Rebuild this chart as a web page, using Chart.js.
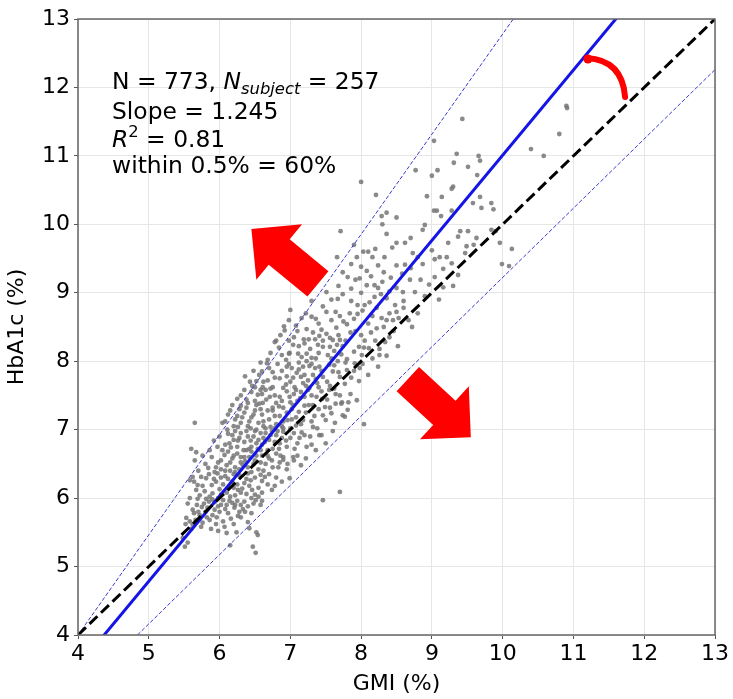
<!DOCTYPE html>
<html>
<head>
<meta charset="utf-8">
<script src="https://cdn.jsdelivr.net/npm/chart.js@4.4.1/dist/chart.umd.min.js"></script>
<style>
  body { margin: 0; background: #fff; }
  canvas { display: block; }
</style>
</head>
<body>
<canvas id="myChart" width="733" height="699"></canvas>
<script>
// GMI vs HbA1c, grouped by HbA1c band: [gmi, hba1c]
var band5 = [
  [5.51,5.29],[6.15,5.31],[6.24,5.5],[6.52,5.5],[6.54,5.46],[6.47,5.29],[6.51,5.2],[5.55,5.35],[6.1,5.49],[5.48,5.42],
  [5.53,5.71],[5.62,5.61],[5.76,5.64],[5.72,5.75],[5.82,5.72],[5.9,5.75],[6.07,5.58],[6.26,5.74],[6.3,5.72],[5.66,5.68],
  [5.95,5.62],[6.0,5.8],[5.6,5.55],[6.4,5.65],[6.05,5.66],[5.69,5.99],[5.81,5.99],[5.93,5.94],[5.75,5.87],[5.83,5.86],
  [5.93,5.83],[5.62,5.83],[6.21,5.86],[6.28,5.8],[6.1,5.9],[6.35,5.95],[5.55,5.92],[5.85,5.95],[6.05,5.97],[6.4,5.88],
  [7.46,5.97],[6.51,5.97],[6.18,5.93],[5.98,5.88],[5.7,5.8],[6.33,5.84],[6.45,5.78],[5.88,5.55],[6.2,5.62],[5.78,5.92],
  [6.12,5.78],[6.58,5.9],[6.25,5.96],[5.64,5.78],[5.74,5.58],[5.86,5.68],[5.96,5.72],[6.08,5.84],[6.16,5.7],[6.22,5.9],
  [5.68,5.9],[5.9,5.98],[6.02,5.9],[6.3,5.9],[5.58,5.66],[6.36,5.8],[5.8,5.8],[6.14,5.96],[6.48,5.92],[5.52,5.62],
  [6.6,5.96],[5.98,5.52],[6.42,5.56]
];
var band6 = [
  [5.58,6.0],[6.45,6.0],[5.67,6.12],[5.79,6.1],[5.9,6.07],[6.02,6.05],[6.15,6.02],[6.3,6.08],[6.5,6.05],[7.7,6.09],
  [6.46,6.12],[6.74,6.12],[6.6,6.08],[5.58,6.26],[5.62,6.31],[5.74,6.31],[5.81,6.29],[5.89,6.19],[5.69,6.19],[5.93,6.38],
  [5.97,6.36],[6.05,6.2],[6.12,6.28],[6.2,6.15],[6.28,6.33],[6.35,6.22],[6.42,6.18],[6.5,6.3],[6.6,6.25],[6.7,6.35],
  [6.45,6.38],[6.15,6.4],[6.0,6.13],[5.85,6.35],[6.25,6.2],[6.55,6.15],[6.8,6.3],[6.64,6.31],[6.99,6.29],[6.38,6.28],
  [6.08,6.32],[6.22,6.38],[5.95,6.24],[6.32,6.14],[5.65,6.55],[5.8,6.5],[5.89,6.6],[5.95,6.45],[6.02,6.55],[6.07,6.63],
  [6.1,6.48],[6.18,6.58],[6.22,6.45],[6.25,6.65],[6.3,6.52],[6.35,6.6],[6.4,6.45],[6.45,6.68],[6.5,6.55],[6.55,6.42],
  [6.6,6.62],[6.65,6.5],[6.7,6.58],[6.75,6.45],[6.8,6.65],[6.85,6.52],[6.9,6.6],[6.95,6.42],[7.05,6.55],[6.12,6.68],
  [6.38,6.7],[6.28,6.42],[6.58,6.7],[6.02,6.42],[7.15,6.48],[6.83,6.45],[6.9,6.56],[7.04,6.6],[6.48,6.5],[6.15,6.52],
  [6.42,6.6],[6.68,6.62],[6.33,6.48],[5.6,6.72],[5.67,6.67],[5.97,6.75],[6.14,6.8],[6.0,6.9],[6.2,6.85],[6.25,6.75],
  [6.3,6.95],[6.35,6.82],[6.4,6.9],[6.45,6.75],[6.5,6.98],[6.55,6.85],[6.6,6.78],[6.65,6.95],[6.7,6.85],[6.75,6.72],
  [6.8,6.92],[6.85,6.8],[6.9,6.97],[6.95,6.75],[7.0,6.88],[7.1,6.8],[7.2,6.92],[7.3,6.78],[7.44,6.92],[6.22,6.98],
  [6.42,6.72],[6.62,6.88],[6.82,6.98],[7.05,6.95],[6.08,6.78],[7.13,6.88],[7.23,6.75],[7.41,6.92],[6.28,6.88],[6.52,6.8],
  [6.72,6.92],[6.88,6.88],[6.18,6.92],[6.38,6.98],[6.58,6.95],
  [5.72,6.04],[5.86,6.02],[5.98,6.0],[6.1,6.08],[6.22,6.04],[6.38,6.06],[6.55,6.02],[5.64,6.24],[5.76,6.18],[5.92,6.28],
  [6.02,6.3],[6.18,6.24],[6.26,6.12],[6.44,6.26],[6.58,6.34],[6.68,6.2],[6.78,6.18],[6.88,6.24],[5.7,6.4],[5.84,6.44],
  [5.98,6.52],[6.08,6.4],[6.2,6.35],[6.3,6.6],[6.4,6.36],[6.52,6.62],[6.62,6.4],[6.74,6.55],[6.86,6.62],[6.96,6.5],
  [7.1,6.62],[7.22,6.58],[5.76,6.62],[5.86,6.7],[6.04,6.7],[6.16,6.74],[6.26,6.84],[6.34,6.7],[6.44,6.84],[6.54,6.72],
  [6.64,6.82],[6.74,6.98],[6.84,6.72],[6.94,6.84],[7.06,6.72],[7.16,6.96],[7.28,6.9],[7.36,6.7],[6.12,6.94],[6.48,6.9],
  [6.68,6.7],[6.78,6.82],[6.58,6.52],[6.2,6.62],[5.92,6.84],[6.36,6.54],[7.5,6.8],[7.6,6.98]
];
var band7 = [
  [5.65,7.1],[6.04,7.1],[6.08,7.12],[6.11,7.0],[6.2,7.05],[6.25,7.2],[6.3,7.1],[6.35,7.25],[6.4,7.05],[6.45,7.18],
  [6.5,7.28],[6.55,7.1],[6.6,7.22],[6.65,7.02],[6.7,7.15],[6.75,7.28],[6.8,7.08],[6.85,7.2],[6.9,7.12],[6.95,7.25],
  [7.0,7.02],[7.08,7.18],[7.15,7.08],[7.22,7.25],[7.3,7.12],[7.46,7.21],[7.63,7.1],[7.77,7.19],[8.04,7.08],[7.56,7.32],
  [7.81,7.29],[6.15,7.28],[6.52,7.0],[6.78,7.02],[7.38,7.02],[6.28,7.3],[7.32,7.04],[7.74,7.21],[6.42,7.12],[6.62,7.12],
  [6.88,7.05],[7.02,7.15],[6.58,7.3],[6.22,7.15],[6.4,7.39],[6.54,7.51],[6.61,7.39],[6.71,7.48],[6.8,7.39],[6.85,7.48],
  [6.99,7.48],[7.04,7.36],[7.2,7.48],[7.32,7.36],[7.37,7.48],[7.64,7.52],[7.73,7.4],[7.94,7.43],[7.64,7.38],[7.72,7.38],
  [7.49,7.33],[6.25,7.45],[6.3,7.35],[6.45,7.55],[6.9,7.32],[7.1,7.42],[7.15,7.55],[7.25,7.58],[7.45,7.45],[7.55,7.58],
  [6.65,7.58],[6.35,7.58],[6.95,7.56],[7.85,7.52],[6.75,7.32],[7.2,7.35],[6.5,7.42],[7.05,7.52],[6.6,7.52],[6.43,7.7],
  [6.61,7.62],[6.75,7.62],[6.9,7.61],[7.06,7.62],[7.18,7.68],[7.27,7.61],[7.4,7.62],[7.56,7.64],[7.77,7.67],[6.52,7.71],
  [7.15,7.77],[7.32,7.8],[7.46,7.77],[7.7,7.77],[7.97,7.71],[7.09,7.83],[6.75,7.84],[6.95,7.78],[7.8,7.87],[6.6,7.85],
  [6.85,7.75],[7.6,7.85],[8.1,7.8],[6.5,7.62],[7.0,7.7],[7.25,7.72],[6.68,7.72],[6.67,7.97],[6.82,7.96],[6.95,7.92],
  [7.02,7.9],[7.27,7.93],[7.41,7.92],[7.91,7.97],[7.98,7.9],[8.24,7.92],[7.55,7.95],[7.12,7.98],[7.35,7.9],[7.18,7.92],
  [6.12,7.22],[6.18,7.36],[6.26,7.04],[6.32,7.18],[6.38,7.32],[6.44,7.02],[6.48,7.22],[6.56,7.38],[6.62,7.05],[6.68,7.28],
  [6.72,7.04],[6.78,7.2],[6.84,7.34],[6.9,7.02],[6.96,7.14],[7.02,7.3],[7.08,7.06],[7.12,7.26],[7.18,7.14],[7.26,7.36],
  [7.34,7.2],[7.4,7.3],[7.5,7.14],[7.58,7.24],[6.3,7.5],[6.38,7.44],[6.46,7.64],[6.52,7.36],[6.58,7.58],[6.66,7.44],
  [6.72,7.6],[6.78,7.5],[6.88,7.42],[6.94,7.66],[7.0,7.4],[7.08,7.58],[7.14,7.46],[7.22,7.64],[7.3,7.5],[7.38,7.68],
  [7.44,7.56],[7.52,7.44],[7.62,7.6],[7.7,7.5],[7.82,7.4],[6.56,7.8],[6.62,7.7],[6.7,7.9],[6.78,7.76],[6.88,7.86],
  [6.98,7.96],[7.04,7.76],[7.12,7.88],[7.2,7.8],[7.3,7.96],[7.36,7.74],[7.44,7.86],[7.52,7.7],[7.62,7.94],[7.68,7.84],
  [7.86,7.76],[7.9,7.86],[8.02,7.96],[6.48,7.86],[6.58,7.98],[6.36,7.78],[7.78,7.98]
];
var band8 = [
  [7.23,8.0],[7.67,8.0],[7.8,8.03],[6.88,8.09],[6.98,8.11],[7.11,8.11],[7.23,8.11],[7.4,8.12],[7.53,8.09],[8.01,8.09],
  [8.26,8.09],[8.36,8.08],[6.99,8.12],[6.68,8.02],[7.3,8.05],[7.62,8.15],[6.78,8.28],[6.8,8.3],[7.19,8.32],[7.26,8.32],
  [7.35,8.32],[7.6,8.31],[7.7,8.31],[7.39,8.24],[7.46,8.21],[7.56,8.21],[7.74,8.22],[7.97,8.21],[8.11,8.19],[8.26,8.18],
  [8.52,8.22],[7.41,8.37],[7.51,8.4],[7.23,8.47],[7.65,8.49],[8.32,8.5],[6.92,8.45],[7.05,8.35],[7.85,8.42],[8.05,8.3],
  [8.4,8.35],[7.12,8.22],[6.91,8.51],[7.16,8.63],[7.3,8.65],[7.51,8.72],[7.64,8.72],[7.84,8.7],[7.95,8.69],[8.29,8.63],
  [8.36,8.6],[8.45,8.6],[8.53,8.63],[8.5,8.72],[8.67,8.6],[7.0,8.75],[8.1,8.55],[7.75,8.58],[7.4,8.55],[7.74,8.98],
  [8.19,8.94],[8.36,8.92],[7.95,8.82],[8.05,8.82],[7.67,8.91],[8.48,8.82],[8.9,8.95],[9.1,8.9],
  [6.72,8.12],[6.84,8.2],[6.94,8.02],[7.04,8.24],[7.16,8.06],[7.28,8.18],[7.36,8.04],[7.46,8.3],[7.58,8.04],[7.66,8.24],
  [7.72,8.1],[7.9,8.14],[8.04,8.2],[8.16,8.04],[8.2,8.3],[8.34,8.28],[6.86,8.38],[6.98,8.3],[7.1,8.44],[7.2,8.26],
  [7.32,8.42],[7.44,8.46],[7.56,8.34],[7.68,8.38],[7.78,8.3],[7.92,8.44],[8.0,8.38],[8.14,8.42],[8.22,8.48],[8.46,8.44],
  [6.98,8.6],[7.08,8.52],[7.22,8.7],[7.36,8.62],[7.46,8.8],[7.58,8.6],[7.7,8.66],[7.8,8.54],[7.9,8.62],[8.02,8.74],
  [8.16,8.66],[8.22,8.78],[8.4,8.7],[8.6,8.78],[7.58,8.9],[7.86,8.88],[8.12,8.86],[8.28,8.98],[8.6,8.88],[7.3,8.88],
  [8.72,8.5],[8.8,8.7]
];
var band9 = [
  [7.51,9.01],[8.59,9.01],[8.76,9.01],[8.19,9.11],[8.08,9.11],[8.24,9.07],[8.5,9.07],[9.16,9.08],[7.81,9.23],[7.92,9.19],
  [7.98,9.21],[8.08,9.32],[8.69,9.19],[8.84,9.19],[9.04,9.23],[9.16,9.35],[9.37,9.26],[8.32,9.3],[8.5,9.4],[7.86,9.42],
  [8.24,9.4],[8.87,9.42],[8.62,9.41],[9.28,9.43],[9.04,9.49],[9.11,9.52],[9.21,9.52],[9.47,9.58],[8.73,9.58],[7.66,9.52],
  [8.03,9.6],[8.1,9.6],[7.94,9.52],[8.16,9.52],[8.33,9.52],[9.49,9.68],[9.59,9.7],[10.09,9.39],[9.99,9.42],[10.13,9.64],
  [8.5,9.73],[8.62,9.73],[9.23,9.73],[9.96,9.73],[9.4,9.9],[9.51,9.9],[9.37,9.82],[9.63,9.8],[9.84,9.92],[9.9,9.9],
  [8.87,9.92],[8.9,9.99],[7.71,9.9],
  [7.68,9.1],[7.86,9.06],[8.0,9.0],[8.3,9.16],[8.4,9.02],[8.58,9.28],[8.42,9.22],[8.14,9.24],[7.74,9.3],[8.0,9.38],
  [8.7,9.36],[8.96,9.12],[8.2,9.64],[8.44,9.66],[8.7,9.8],[9.0,9.62],[8.36,9.86],[9.3,9.1],[7.9,9.7],[8.8,9.52]
];
var band10 = [
  [8.3,10.0],[8.29,10.12],[8.36,10.17],[8.5,10.1],[9.03,10.2],[9.07,10.2],[9.28,10.2],[9.13,10.12],[9.7,10.24],[9.87,10.22],
  [9.58,10.31],[9.84,10.31],[8.21,10.43],[8.93,10.41],[9.14,10.4],[9.68,10.4],[8.0,10.62],[8.77,10.79],[9.08,10.79],[9.0,10.71],
  [9.3,10.55],[9.28,10.52],[9.64,10.72],[9.51,10.84],[9.68,10.93],[9.31,10.9],[9.35,11.03],[9.66,11.0],[10.58,11.0],[10.4,11.1],
  [9.03,11.22],[10.8,11.32],[9.43,11.54],[10.9,11.73],[10.91,11.7]
];

// summary stats
var nReadings = 773;
var nSubjects = 257;
var slope = 1.245;
var intercept = -1.44;
var r2 = 0.81;
var within05 = 60;

// reference lines [gmi, hba1c]
var identityLine = [[4, 4], [13, 13]];
var upperBand = [[4, 4], [10.15, 13]];
var lowerBand = [[4.84, 4], [13, 12.26]];
var regressionX = [4, 13];

// red annotation arrows, tail -> tip in data units
var arrowUp = [[7.39, 9.13], [6.45, 9.93]];
var arrowDown = [[8.66, 7.74], [9.55, 6.89]];
var curveArrow = [[11.19, 12.43], [11.69, 12.40], [11.73, 11.86]];

var ticks = [4, 5, 6, 7, 8, 9, 10, 11, 12, 13];

var font = '"DejaVu Sans", sans-serif';

function toXY(pairs) {
  return pairs.map(function (p) { return { x: p[0], y: p[1] }; });
}

var scatterPts = toXY([].concat(band5, band6, band7, band8, band9, band10));
var regressionPts = regressionX.map(function (x) { return { x: x, y: slope * x + intercept }; });

function blockArrow(ctx, x0, y0, x1, y1) {
  var dx = x1 - x0, dy = y1 - y0;
  var len = Math.hypot(dx, dy);
  var ux = dx / len, uy = dy / len, nx = -uy, ny = ux;
  var shaft = 16.5, head = 36, headLen = 36;
  var bx = x1 - ux * headLen, by = y1 - uy * headLen;
  ctx.beginPath();
  ctx.moveTo(x0 + nx * shaft, y0 + ny * shaft);
  ctx.lineTo(bx + nx * shaft, by + ny * shaft);
  ctx.lineTo(bx + nx * head, by + ny * head);
  ctx.lineTo(x1, y1);
  ctx.lineTo(bx - nx * head, by - ny * head);
  ctx.lineTo(bx - nx * shaft, by - ny * shaft);
  ctx.lineTo(x0 - nx * shaft, y0 - ny * shaft);
  ctx.closePath();
  ctx.fill();
}

function drawRuns(ctx, x, y, runs) {
  runs.forEach(function (r) {
    ctx.font = (r.italic ? 'italic ' : '') + (r.size || 23.4) + 'px ' + font;
    ctx.fillText(r.text, x, y + (r.dy || 0));
    x += ctx.measureText(r.text).width;
  });
}

var annotations = {
  id: 'annotations',
  afterDatasetsDraw: function (chart) {
    var ctx = chart.ctx, xs = chart.scales.x, ys = chart.scales.y, a = chart.chartArea;
    var px = function (p) { return [xs.getPixelForValue(p[0]), ys.getPixelForValue(p[1])]; };

    ctx.save();
    ctx.fillStyle = '#ff0000';
    [arrowUp, arrowDown].forEach(function (arr) {
      var t = px(arr[0]), h = px(arr[1]);
      blockArrow(ctx, t[0], t[1], h[0], h[1]);
    });

    var c0 = px(curveArrow[0]), c1 = px(curveArrow[1]), c2 = px(curveArrow[2]);
    ctx.strokeStyle = '#ff0000';
    ctx.lineWidth = 6;
    ctx.lineCap = 'round';
    ctx.beginPath();
    ctx.moveTo(c0[0], c0[1]);
    ctx.quadraticCurveTo(c1[0], c1[1], c2[0], c2[1]);
    ctx.stroke();
    ctx.beginPath();
    ctx.arc(c0[0] + 1, c0[1] + 1, 4.5, 0, Math.PI * 2);
    ctx.fill();

    // stats text
    ctx.fillStyle = '#000';
    ctx.textBaseline = 'alphabetic';
    ctx.textAlign = 'left';
    var tx = a.left + 34;
    drawRuns(ctx, tx, a.top + 70, [
      { text: 'N = ' + nReadings + ', ' },
      { text: 'N', italic: true },
      { text: 'subject', italic: true, size: 16.4, dy: 5 },
      { text: ' = ' + nSubjects }
    ]);
    drawRuns(ctx, tx, a.top + 100, [{ text: 'Slope = ' + slope.toFixed(3) }]);
    drawRuns(ctx, tx, a.top + 128, [
      { text: 'R', italic: true },
      { text: '2', size: 16.4, dy: -10 },
      { text: ' = ' + r2.toFixed(2) }
    ]);
    drawRuns(ctx, tx, a.top + 154, [{ text: 'within 0.5% = ' + within05 + '%' }]);

    // axes frame
    ctx.strokeStyle = '#666';
    ctx.lineWidth = 1.5;
    ctx.strokeRect(a.left, a.top, a.right - a.left, a.bottom - a.top);
    ctx.restore();
  }
};

var ctx = document.getElementById('myChart');

var myChart = new Chart(ctx, {
  type: 'scatter',
  data: {
    datasets: [{
      label: 'identity',
      data: toXY(identityLine),
      showLine: true,
      borderColor: '#000',
      borderWidth: 3,
      borderDash: [11, 5],
      pointRadius: 0,
      order: 1
    }, {
      label: 'regression',
      data: regressionPts,
      showLine: true,
      borderColor: '#1414e6',
      borderWidth: 3,
      pointRadius: 0,
      order: 2
    }, {
      label: 'upper',
      data: toXY(upperBand),
      showLine: true,
      borderColor: '#3a3ad0',
      borderWidth: 1,
      borderDash: [4, 2],
      pointRadius: 0,
      order: 3
    }, {
      label: 'lower',
      data: toXY(lowerBand),
      showLine: true,
      borderColor: '#3a3ad0',
      borderWidth: 1,
      borderDash: [4, 2],
      pointRadius: 0,
      order: 4
    }, {
      label: 'readings',
      data: scatterPts,
      backgroundColor: 'rgba(118,118,118,0.85)',
      borderWidth: 0,
      pointRadius: 2.4,
      order: 10
    }]
  },
  options: {
    responsive: false,
    animation: false,
    layout: { padding: { top: 19, right: 18, left: 0, bottom: 0 } },
    plugins: { legend: { display: false }, tooltip: { enabled: false } },
    scales: {
      x: {
        type: 'linear',
        min: 4, max: 13,
        afterFit: function (s) { s.height = 64; },
        afterBuildTicks: function (s) { s.ticks = ticks.map(function (v) { return { value: v }; }); },
        ticks: { color: '#000', font: { family: font, size: 22 }, padding: 2, maxRotation: 0 },
        grid: { color: '#e6e6e6', tickColor: '#555', tickLength: 4 },
        border: { display: false },
        title: { display: true, text: 'GMI (%)', color: '#000', font: { family: font, size: 22 }, padding: { top: 0, bottom: 2 } }
      },
      y: {
        type: 'linear',
        min: 4, max: 13,
        afterFit: function (s) { s.width = 78; },
        afterBuildTicks: function (s) { s.ticks = ticks.map(function (v) { return { value: v }; }); },
        ticks: { color: '#000', font: { family: font, size: 22 }, padding: 4 },
        grid: { color: '#e6e6e6', tickColor: '#555', tickLength: 4 },
        border: { display: false },
        title: { display: true, text: 'HbA1c (%)', color: '#000', font: { family: font, size: 22 }, padding: { top: 4, bottom: 0 } }
      }
    }
  },
  plugins: [annotations]
});
</script>
</body>
</html>
